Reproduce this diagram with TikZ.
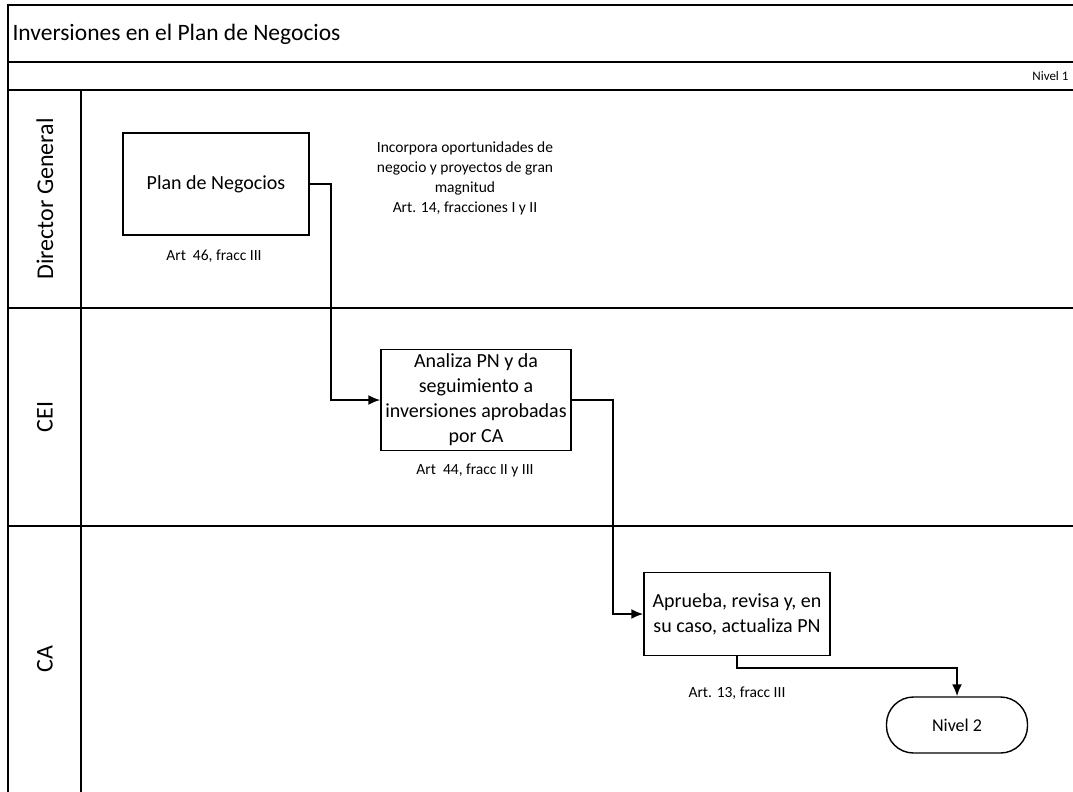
\documentclass[tikz,border=0pt]{standalone}
\usepackage{fontspec}
\setmainfont{Carlito}
\usetikzlibrary{arrows.meta,positioning,calc}

\begin{document}
\begin{tikzpicture}[x=1pt, y=-1pt,
  frame/.style={line width=1.8pt},
  lane/.style={rotate=90, font=\fontsize{24}{28}\selectfont},
  task/.style={draw, line width=1.4pt, align=center, inner sep=2pt, font=\fontsize{20}{25}\selectfont},
  note/.style={align=center, font=\fontsize{15.5}{20}\selectfont},
  flow/.style={line width=2pt, -{Latex[length=12pt,width=10pt]}}
]
  \useasboundingbox (0,0) rectangle (1073,792);

  %% Frame and lanes
  \draw[frame] (8,792) -- (8,5) -- (1073,5);
  \draw[frame] (8,62) -- (1073,62);
  \draw[frame] (8,90) -- (1073,90);
  \draw[frame] (8,308) -- (1073,308);
  \draw[frame] (8,526) -- (1073,526);
  \draw[frame] (81,90) -- (81,792);

  %% Header
  \node[anchor=west, font=\fontsize{23.5}{26}\selectfont] (title) at (9,34) {Inversiones en el Plan de Negocios};
  \node[anchor=east, font=\fontsize{13}{15}\selectfont] (level1) at (1072,76) {Nivel 1};

  %% Lane labels
  \node[lane] (dg)  at (45,199) {Director General};
  \node[lane] (cei) at (45,417) {CEI};
  \node[lane] (ca)  at (45,659) {CA};

  %% Tasks
  \node[task, minimum width=186, minimum height=102] (plan) at (216,184) {Plan de Negocios};
  \node[note] (art46) at (214,256) {Art\ \ 46, fracc III};
  \node[note] (incorpora) at (465,178) {Incorpora oportunidades de\\negocio y proyectos de gran\\magnitud\\Art. 14, fracciones I y II};

  \node[task, minimum width=190, minimum height=101] (analiza) at (476,400) {Analiza PN y da\\seguimiento a\\inversiones aprobadas\\por CA};
  \node[note] (art44) at (475,470) {Art\ \ 44, fracc II y III};

  \node[task, minimum width=186, minimum height=83] (aprueba) at (737,614) {Aprueba, revisa y, en\\su caso, actualiza PN};
  \node[note] (art13) at (737,693) {Art. 13, fracc III};

  \node[draw, line width=1.4pt, rounded corners=27pt, minimum width=141, minimum height=56, font=\fontsize{18}{22}\selectfont] (nivel2) at (957,725) {Nivel 2};

  %% Connectors
  \draw[flow] (plan.east) -- ++(21,0) |- (analiza.west);
  \draw[flow] (analiza.east) -- ++(41,0) |- (aprueba.west);
  \draw[flow] (aprueba.south) -- ++(0,12) -| (nivel2.north);
\end{tikzpicture}
\end{document}
